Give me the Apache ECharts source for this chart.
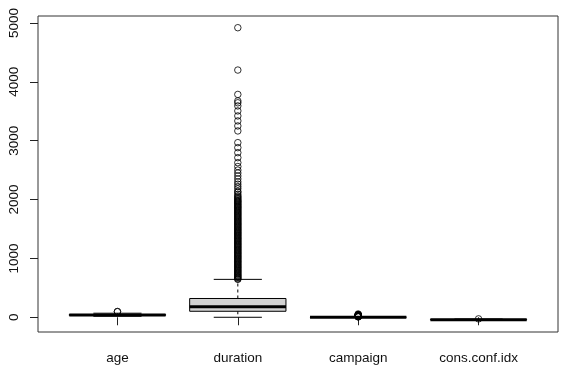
<!DOCTYPE html>
<html><head><meta charset="utf-8">
<script src="https://cdn.jsdelivr.net/npm/echarts@6/dist/echarts.min.js"></script>
<style>html,body{margin:0;padding:0;background:#fff}#c{width:566px;height:370px}</style>
</head><body><div id="c"></div>
<script>
const categories = ['age', 'duration', 'campaign', 'cons.conf.idx'];
const whiskerLow = [17, 0, 1, -50.8];
const q1 = [32, 102, 1, -42.7];
const median = [38, 180, 2, -41.8];
const q3 = [47, 319, 3, -36.4];
const whiskerHigh = [69, 644, 6, -29.8];
const ageOutliers = [95, 98];
const durationOutliers = [645, 652, 668, 679, 690, 706, 717, 731, 745, 758, 772, 786, 799, 813, 828, 842, 855, 869, 884, 897, 911, 926, 940, 953, 967, 982, 996, 1009, 1024, 1037, 1051, 1066, 1080, 1093, 1107, 1122, 1136, 1149, 1163, 1178, 1192, 1205, 1220, 1234, 1247, 1261, 1276, 1290, 1303, 1318, 1332, 1345, 1359, 1374, 1388, 1401, 1416, 1430, 1443, 1457, 1472, 1486, 1499, 1514, 1528, 1541, 1556, 1570, 1584, 1597, 1612, 1626, 1640, 1655, 1669, 1683, 1698, 1712, 1727, 1741, 1756, 1770, 1785, 1799, 1814, 1828, 1843, 1857, 1871, 1882, 1897, 1912, 1925, 1940, 1956, 1966, 1980, 1994, 2011, 2028, 2045, 2062, 2089, 2122, 2139, 2184, 2220, 2260, 2300, 2350, 2400, 2450, 2500, 2560, 2626, 2711, 2796, 2881, 2966, 3165, 3250, 3335, 3420, 3505, 3590, 3643, 3675, 3785, 4199, 4918];
const campaignOutliers = [7, 9, 11, 13, 15, 17, 19, 21, 23, 25, 27, 29, 31, 33, 35, 37, 39, 40, 41, 42, 43, 56];
const consConfIdxOutliers = [-26.9];
const yTicks = [0, 1000, 2000, 3000, 4000, 5000];
const xTicks = [1, 2, 3, 4];

const boxData = categories.map((c, i) => [i + 1, whiskerLow[i], q1[i], median[i], q3[i], whiskerHigh[i]]);
const outlierData = [];
[ageOutliers, durationOutliers, campaignOutliers, consConfIdxOutliers].forEach((arr, i) => {
  arr.forEach(v => outlierData.push([i + 1, v]));
});

function renderItem(params, api) {
  const x = api.value(0);
  const c = v => api.coord([x, v]);
  const pLo = c(api.value(1)), pA = c(api.value(2)), pM = c(api.value(3)), pB = c(api.value(4)), pHi = c(api.value(5));
  const hb = api.size([0.4, 0])[0];
  const hs = api.size([0.2, 0])[0];
  const cx = pM[0];
  const blk = '#000';
  return {
    type: 'group',
    children: [
      {type: 'line', shape: {x1: cx, y1: pB[1], x2: cx, y2: pHi[1]}, style: {stroke: blk, lineWidth: 1, lineDash: [3, 3]}},
      {type: 'line', shape: {x1: cx, y1: pA[1], x2: cx, y2: pLo[1]}, style: {stroke: blk, lineWidth: 1, lineDash: [3, 3]}},
      {type: 'line', shape: {x1: cx - hs, y1: pHi[1], x2: cx + hs, y2: pHi[1]}, style: {stroke: blk, lineWidth: 1}},
      {type: 'line', shape: {x1: cx - hs, y1: pLo[1], x2: cx + hs, y2: pLo[1]}, style: {stroke: blk, lineWidth: 1}},
      {type: 'rect', shape: {x: cx - hb, y: pB[1], width: 2 * hb, height: pA[1] - pB[1]}, style: {fill: '#d3d3d3', stroke: blk, lineWidth: 1}},
      {type: 'line', shape: {x1: cx - hb, y1: pM[1], x2: cx + hb, y2: pM[1]}, style: {stroke: blk, lineWidth: 3}}
    ]
  };
}

const chart = echarts.init(document.getElementById('c'), null, {renderer: 'canvas'});
chart.setOption({
  animation: false,
  backgroundColor: '#fff',
  grid: {left: 38, top: 16, width: 520, height: 316, show: true, borderColor: '#333', borderWidth: 1, backgroundColor: 'transparent'},
  xAxis: {
    type: 'value', min: 0.34, max: 4.66,
    axisLine: {show: false},
    splitLine: {show: false},
    axisTick: {show: true, customValues: xTicks, length: 8, lineStyle: {color: '#222'}},
    axisLabel: {customValues: xTicks, formatter: v => categories[Math.round(v) - 1], margin: 19, color: '#111', fontSize: 13.5, fontFamily: 'Liberation Sans, Arial, sans-serif'}
  },
  yAxis: {
    type: 'value', min: -250, max: 5117,
    axisLine: {show: false},
    splitLine: {show: false},
    axisTick: {show: true, customValues: yTicks, length: 8, lineStyle: {color: '#222'}},
    axisLabel: {customValues: yTicks, formatter: v => String(Math.round(v)), rotate: 90, margin: 17, color: '#111', fontSize: 13.5, fontFamily: 'Liberation Sans, Arial, sans-serif'}
  },
  series: [
    {type: 'custom', renderItem: renderItem, data: boxData, encode: {x: 0, y: [1, 2, 3, 4, 5]}, silent: true, z: 2},
    {type: 'scatter', data: outlierData, symbol: 'circle', symbolSize: 6.5, silent: true, z: 3,
     itemStyle: {color: 'rgba(0,0,0,0)', borderColor: '#000', borderWidth: 1}}
  ]
});
</script>
</body></html>
